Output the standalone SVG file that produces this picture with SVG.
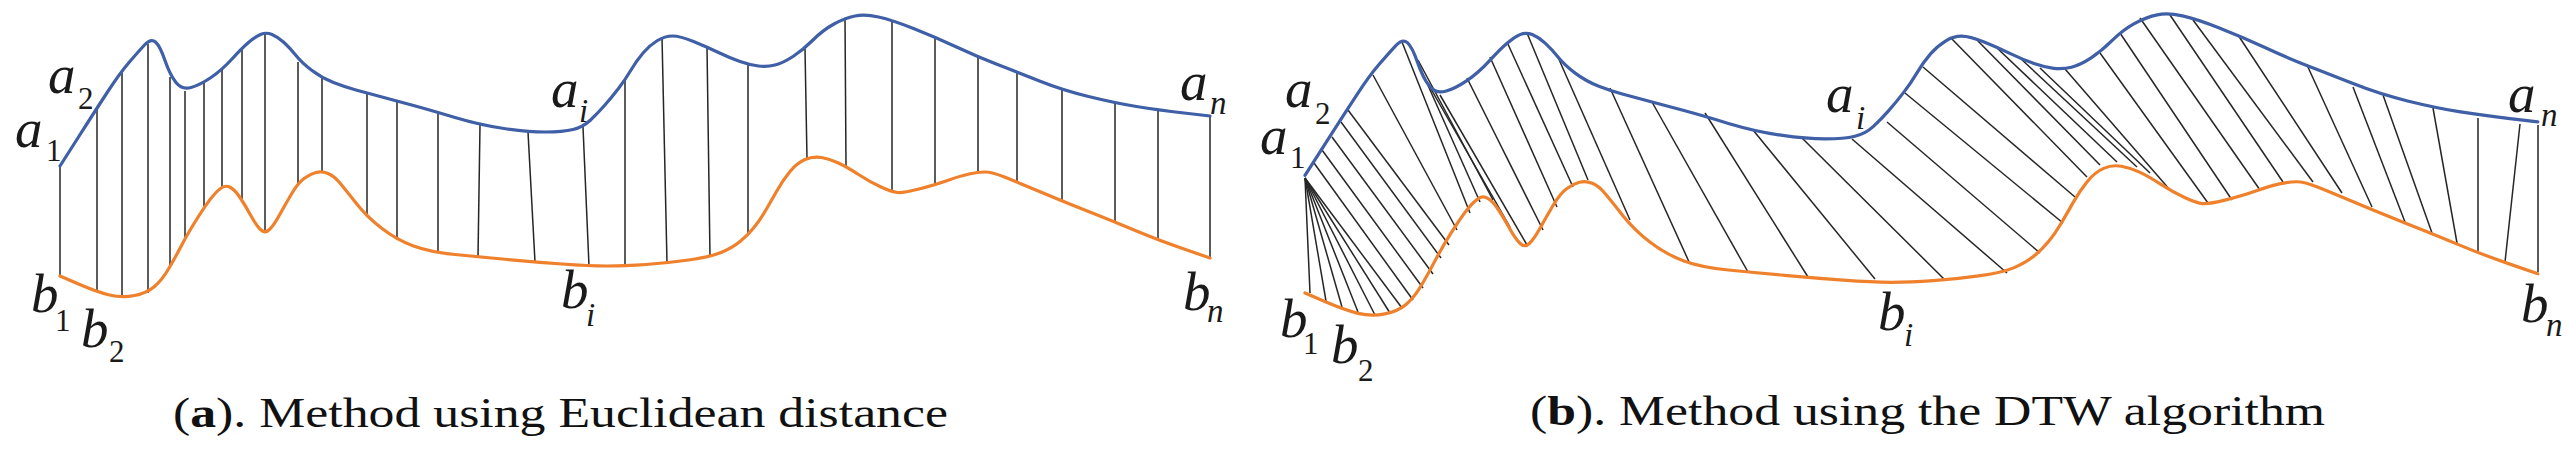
<svg xmlns="http://www.w3.org/2000/svg" xmlns:xlink="http://www.w3.org/1999/xlink" width="2570" height="456" viewBox="0 0 2570 456">
<style>
.blue{fill:none;stroke:#3f5fa6;stroke-width:3.2;stroke-linejoin:round;stroke-linecap:round}
.orange{fill:none;stroke:#f0812c;stroke-width:3.2;stroke-linejoin:round;stroke-linecap:round}
.links line{stroke:#262626;stroke-width:1.5}
.lab{font-family:"Liberation Serif",serif;font-style:italic;font-size:55px;fill:#1a1a1a}
.sub{font-family:"Liberation Serif",serif;font-size:31px;fill:#1a1a1a}
.subi{font-family:"Liberation Serif",serif;font-style:italic;font-size:33px;fill:#1a1a1a}
.cap{font-family:"Liberation Serif",serif;font-size:43px;fill:#111}
</style>
<defs>
<path id="curveA" d="M60,166 L78.5,137 Q97,108 108.5,90.5 T129,62.5 T144.5,45 T155.5,42 T165,60.5 T176,82.5 T191,87.5 T211,77.5 T232,59 T248.5,42.5 T260.5,34.5 T272,34.5 T284,42.5 T296,55.5 T312,70.5 T333.5,82.5 T356,90 T382,97 T413.5,105.5 T455,117.5 T504,128.5 T545.5,132 T573,129.5 T590,120.5 T604.5,105.5 T618.5,88.5 T631,70 T643.5,52.5 T657.5,40.5 T672.5,36 T693.5,41.5 T718.5,52.5 T740,61.5 T758.5,66 T775,65 T793,56.5 T813,40 T834,24 T855,16 T878.5,17 T913.5,28.5 T956.5,47 T997.5,64.5 T1039.5,81 T1088.5,96.5 T1136.5,106.5 T1184,113 L1210,116"/>
<path id="curveB" d="M60,276 L78.5,284 Q97,292 109.5,295 T134.5,295.5 T154.5,286.5 T168.5,269 T181.5,245.5 T197.5,218 T212.5,196.5 T222,187.5 T230.5,187.5 T240,197.5 T250.5,215 T260.5,229.5 T269.5,229.5 T279.5,215 T291.5,194 T304,178.5 T316,172.5 T328,173.5 T339.5,182.5 T356,203 T382,228.5 T413.5,246 T455,254.5 T507.5,259.5 T562,264 T607,266 T646,264.5 T688.5,260 T721,252.5 T740,241.5 T754,227.5 T765,211.5 T776.5,191.5 T790,171.5 T805,159.5 T821.5,157.5 T838.5,163 T858.5,174.5 T881,187 T897.5,192.5 T919,189 T947.5,180.5 T969,174 T985,172 T1004.5,177 T1039.5,191.5 T1088.5,211.5 T1136.5,231 T1184,249 L1210,258"/>
</defs>

<g id="panel-a">
<g id="links-a" class="links">
<line x1="60" y1="166" x2="60" y2="276"/>
<line x1="97" y1="108" x2="97" y2="292"/>
<line x1="122" y1="71" x2="122" y2="298"/>
<line x1="148" y1="44" x2="148" y2="293"/>
<line x1="170" y1="77" x2="170" y2="265"/>
<line x1="185" y1="91" x2="185" y2="237"/>
<line x1="204" y1="83" x2="204" y2="206"/>
<line x1="222" y1="70" x2="222" y2="188"/>
<line x1="242" y1="48" x2="242" y2="200"/>
<line x1="265" y1="33" x2="265" y2="233"/>
<line x1="298" y1="62" x2="298" y2="183"/>
<line x1="322" y1="78" x2="322" y2="171"/>
<line x1="367" y1="92" x2="367" y2="217"/>
<line x1="397" y1="101" x2="397" y2="240"/>
<line x1="438" y1="113" x2="438" y2="253"/>
<line x1="480" y1="125" x2="478" y2="257"/>
<line x1="528" y1="132" x2="535" y2="262"/>
<line x1="583" y1="127" x2="589" y2="266"/>
<line x1="625" y1="80" x2="625" y2="266"/>
<line x1="662" y1="37" x2="667" y2="263"/>
<line x1="707" y1="47" x2="710" y2="257"/>
<line x1="748" y1="65" x2="748" y2="235"/>
<line x1="805" y1="49" x2="807" y2="159"/>
<line x1="845" y1="18" x2="846" y2="166"/>
<line x1="892" y1="20" x2="892" y2="192"/>
<line x1="935" y1="37" x2="935" y2="185"/>
<line x1="978" y1="57" x2="978" y2="172"/>
<line x1="1017" y1="72" x2="1017" y2="182"/>
<line x1="1062" y1="90" x2="1062" y2="201"/>
<line x1="1115" y1="103" x2="1115" y2="222"/>
<line x1="1158" y1="110" x2="1158" y2="240"/>
<line x1="1210" y1="116" x2="1210" y2="258"/>
</g>
<use id="seriesA-a" xlink:href="#curveA" href="#curveA" class="blue"/>
<use id="seriesB-a" xlink:href="#curveB" href="#curveB" class="orange"/>
<g id="labels-a">
<text class="lab" x="15" y="147">a</text><text class="sub" x="46" y="161">1</text>
<text class="lab" x="48" y="93">a</text><text class="sub" x="78" y="109">2</text>
<text class="lab" x="31" y="312">b</text><text class="sub" x="55" y="331">1</text>
<text class="lab" x="81" y="347">b</text><text class="sub" x="109" y="362">2</text>
<text class="lab" x="551" y="107">a</text><text class="subi" x="579" y="122">i</text>
<text class="lab" x="561" y="308">b</text><text class="subi" x="586" y="326">i</text>
<text class="lab" x="1180" y="100">a</text><text class="subi" x="1210" y="114">n</text>
<text class="lab" x="1183" y="310">b</text><text class="subi" x="1207" y="322">n</text>
</g>
<text id="caption-a" class="cap" x="173" y="427" textLength="775" lengthAdjust="spacingAndGlyphs">(<tspan font-weight="bold">a</tspan>). Method using Euclidean distance</text>
</g>

<g id="panel-b">
<g id="links-b" class="links">
<line x1="1305" y1="178" x2="1310" y2="293"/>
<line x1="1305" y1="178" x2="1326" y2="301"/>
<line x1="1305" y1="178" x2="1342" y2="307"/>
<line x1="1305" y1="178" x2="1358" y2="312"/>
<line x1="1305" y1="178" x2="1375" y2="315"/>
<line x1="1305" y1="178" x2="1390" y2="313"/>
<line x1="1305" y1="178" x2="1402" y2="308"/>
<line x1="1314" y1="163" x2="1413" y2="300"/>
<line x1="1322" y1="150" x2="1423" y2="288"/>
<line x1="1332" y1="137" x2="1433" y2="274"/>
<line x1="1341" y1="122" x2="1441" y2="258"/>
<line x1="1348" y1="110" x2="1449" y2="245"/>
<line x1="1373" y1="75" x2="1457" y2="230"/>
<line x1="1402" y1="42" x2="1470" y2="213"/>
<line x1="1410" y1="45" x2="1480" y2="202"/>
<line x1="1418" y1="60" x2="1493" y2="200"/>
<line x1="1427" y1="82" x2="1510" y2="227"/>
<line x1="1440" y1="95" x2="1527" y2="245"/>
<line x1="1467" y1="78" x2="1543" y2="230"/>
<line x1="1490" y1="57" x2="1557" y2="207"/>
<line x1="1507" y1="42" x2="1573" y2="187"/>
<line x1="1527" y1="33" x2="1588" y2="180"/>
<line x1="1557" y1="55" x2="1630" y2="220"/>
<line x1="1610" y1="88" x2="1690" y2="264"/>
<line x1="1652" y1="102" x2="1748" y2="272"/>
<line x1="1705" y1="113" x2="1808" y2="277"/>
<line x1="1753" y1="130" x2="1875" y2="279"/>
<line x1="1802" y1="138" x2="1945" y2="280"/>
<line x1="1852" y1="139" x2="2007" y2="273"/>
<line x1="1887" y1="122" x2="2040" y2="253"/>
<line x1="1905" y1="93" x2="2063" y2="223"/>
<line x1="1923" y1="67" x2="2075" y2="197"/>
<line x1="1950" y1="37" x2="2087" y2="177"/>
<line x1="1975" y1="38" x2="2100" y2="165"/>
<line x1="1997" y1="48" x2="2117" y2="162"/>
<line x1="2020" y1="58" x2="2137" y2="167"/>
<line x1="2040" y1="68" x2="2150" y2="173"/>
<line x1="2065" y1="69" x2="2170" y2="190"/>
<line x1="2100" y1="53" x2="2208" y2="203"/>
<line x1="2120" y1="33" x2="2232" y2="200"/>
<line x1="2140" y1="18" x2="2260" y2="190"/>
<line x1="2170" y1="15" x2="2283" y2="182"/>
<line x1="2193" y1="20" x2="2313" y2="182"/>
<line x1="2238" y1="35" x2="2342" y2="193"/>
<line x1="2307" y1="65" x2="2372" y2="207"/>
<line x1="2353" y1="87" x2="2405" y2="222"/>
<line x1="2383" y1="95" x2="2432" y2="233"/>
<line x1="2433" y1="108" x2="2457" y2="243"/>
<line x1="2478" y1="118" x2="2478" y2="251"/>
<line x1="2520" y1="124" x2="2505" y2="262"/>
<line x1="2538" y1="125" x2="2538" y2="272"/>
</g>
<g transform="translate(1305 33) scale(1.072 1.07) translate(-60 -33)">
<use id="seriesA-b" xlink:href="#curveA" href="#curveA" class="blue" style="stroke-width:3"/>
<use id="seriesB-b" xlink:href="#curveB" href="#curveB" class="orange" style="stroke-width:3"/>
</g>
<g id="labels-b">
<text class="lab" x="1260" y="154">a</text><text class="sub" x="1290" y="168">1</text>
<text class="lab" x="1285" y="107">a</text><text class="sub" x="1315" y="124">2</text>
<text class="lab" x="1280" y="337">b</text><text class="sub" x="1303" y="354">1</text>
<text class="lab" x="1331" y="363">b</text><text class="sub" x="1358" y="381">2</text>
<text class="lab" x="1826" y="112">a</text><text class="subi" x="1856" y="129">i</text>
<text class="lab" x="1878" y="330">b</text><text class="subi" x="1904" y="346">i</text>
<text class="lab" x="2508" y="112">a</text><text class="subi" x="2541" y="126">n</text>
<text class="lab" x="2521" y="322">b</text><text class="subi" x="2546" y="336">n</text>
</g>
<text id="caption-b" class="cap" x="1530" y="425" textLength="795" lengthAdjust="spacingAndGlyphs">(<tspan font-weight="bold">b</tspan>). Method using the DTW algorithm</text>
</g>
</svg>
